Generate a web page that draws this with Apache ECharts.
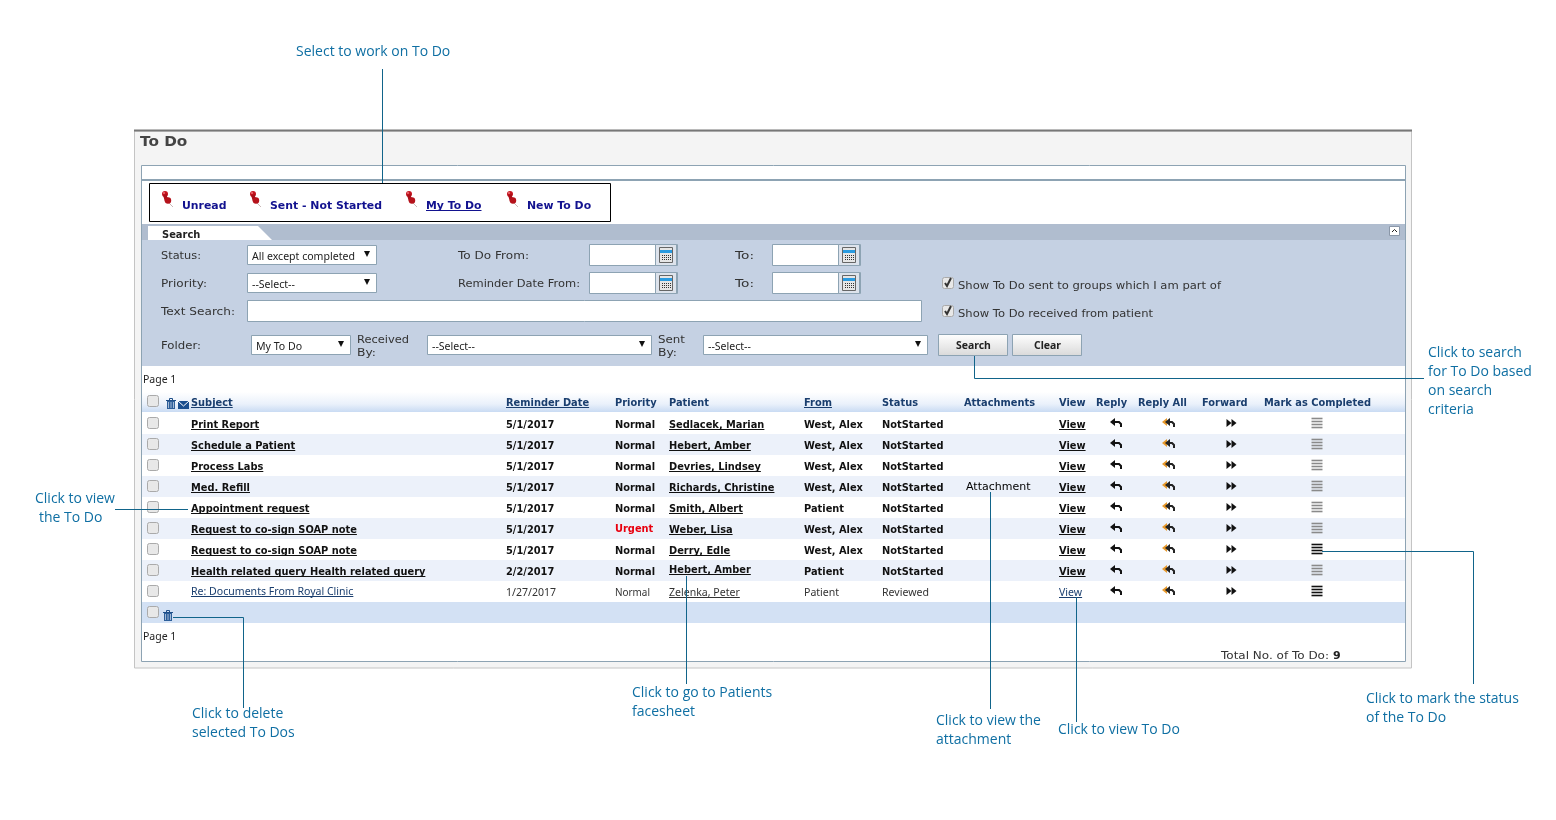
<!DOCTYPE html>
<html><head><meta charset="utf-8">
<style>html,body{margin:0;padding:0;background:#fff}#c{width:1556px;height:820px}</style>
<script src="https://cdn.jsdelivr.net/npm/echarts@6/dist/echarts.min.js"></script>
</head><body><div id="c"></div>
<script>
var tabs = ['Unread','Sent - Not Started','My To Do','New To Do'];
var headers = ['Subject','Reminder Date','Priority','Patient','From','Status','Attachments','View','Reply','Reply All','Forward','Mark as Completed'];
var subjects = ['Print Report','Schedule a Patient','Process Labs','Med. Refill','Appointment request','Request to co-sign SOAP note','Request to co-sign SOAP note','Health related query Health related query','Re: Documents From Royal Clinic'];
var dates = ['5/1/2017','5/1/2017','5/1/2017','5/1/2017','5/1/2017','5/1/2017','5/1/2017','2/2/2017','1/27/2017'];
var priorities = ['Normal','Normal','Normal','Normal','Normal','Urgent','Normal','Normal','Normal'];
var patients = ['Sedlacek, Marian','Hebert, Amber','Devries, Lindsey','Richards, Christine','Smith, Albert','Weber, Lisa','Derry, Edle','Hebert, Amber','Zelenka, Peter'];
var senders = ['West, Alex','West, Alex','West, Alex','West, Alex','Patient','West, Alex','West, Alex','Patient','Patient'];
var statuses = ['NotStarted','NotStarted','NotStarted','NotStarted','NotStarted','NotStarted','NotStarted','NotStarted','Reviewed'];
var attachments = ['','','','Attachment','','','','',''];

(function(){
var G = [];
var VF = '"DejaVu Sans", Verdana, sans-serif', SF = '"Noto Sans", Tahoma, sans-serif', AF = '"Open Sans", sans-serif';
var TEAL = '#0f6fa3', LINE = '#11648a', BORDER = '#8da3b3';
var BOLD = 0.895, TAH = 0.96;
var mc = document.createElement('canvas').getContext('2d');
function rect(x,y,w,h,fill,stroke,lw,r){G.push({type:'rect',silent:true,shape:{x:x,y:y,width:w,height:h,r:r||0},style:{fill:fill||'transparent',stroke:stroke||null,lineWidth:lw||1}});}
function line(x1,y1,x2,y2,c,lw){G.push({type:'line',silent:true,shape:{x1:x1,y1:y1,x2:x2,y2:y2},style:{stroke:c,lineWidth:lw||1}});}
function poly(p,fill){G.push({type:'polygon',silent:true,shape:{points:p},style:{fill:fill}});}
function pl(p,c,lw){G.push({type:'polyline',silent:true,shape:{points:p},style:{stroke:c,lineWidth:lw||1,fill:null}});}
function dot(x,y,r,fill){G.push({type:'circle',silent:true,shape:{cx:x,cy:y,r:r},style:{fill:fill}});}
function measure(s,font){mc.font=font;return mc.measureText(s).width;}
function txt(s,x,y,font,fill,ul,sx){
  sx=sx||1;
  G.push({type:'text',silent:true,originX:x,originY:y+2,scaleX:sx,style:{text:s,x:x,y:y+2,font:font,fill:fill,align:'left',verticalAlign:'middle'}});
  if(ul){line(x,Math.round(y)+6.5,x+measure(s,font)*sx,Math.round(y)+6.5,fill,1);}
}
function fit(s,x,y,font,fill,w){txt(s,x,y,font,fill,false,w/measure(s,font));}
function pin(x,y){
  pl([[x+1,y+4],[x+5,y+8]],'#c9b8b8',1);
  dot(x-3,y-5,3,'#c4141f');
  poly([[x-5,y-4],[x-1,y-5],[x-1,y-2],[x+3,y+1],[x-3,y+3]],'#a90f19');
  dot(x,y+1.5,3.2,'#b5121b');
  dot(x-4,y-6,1,'#f07078');
}
function selectBox(x,y,w,h,s){
  rect(x+.5,y+.5,w-1,h-1,'#fff',BORDER);
  txt(s,x+5,y+h/2,'11px '+SF,'#222',false,TAH);
  var ax=x+w-10,ay=y+h/2-1;poly([[ax-3,ay-3],[ax+3,ay-3],[ax,ay+3]],'#111');
}
function cal(x,y){
  rect(x+.5,y+.5,21,21,'#dde3ec',BORDER);
  rect(x+4.5,y+3.5,13,15,'#e6e6e6','#666');
  rect(x+5,y+6,12,3,'#2a9be0');
  for(var r=0;r<3;r++)for(var c=0;c<5;c++)rect(x+7+c*2,y+11+r*2,1,1,'#333');
}
function dateBox(x,y){
  rect(x+.5,y+.5,88,21,'#fff',BORDER);
  cal(x+66,y);
}
function chk(x,y,on){
  rect(x+.5,y+.5,11,11,'#e8e8e8','#aaaaaa',1,2);
  if(on)pl([[x+3,y+6],[x+5,y+9],[x+9,y+1]],'#333',2);
}
function trash(x,y){
  rect(x,y,8,8,'#2d5f9a');
  line(x-1,y-.5,x+9,y-.5,'#1f4f88',1);
  rect(x+2.5,y-2.5,3,2,null,'#1f4f88');
  for(var i=0;i<3;i++)line(x+1.5+i*2.5,y+1,x+1.5+i*2.5,y+7,'#d8e4f2',.7);
}
function replyIc(x,y,c){
  poly([[x-6,y-1],[x-1,y-5],[x-1,y+3]],c||'#111');
  pl([[x-2,y-1],[x+3,y-1],[x+5,y+1],[x+5,y+4]],c||'#111',2);
}
function replyAllIc(x,y){
  poly([[x-7,y-1],[x-2,y-5],[x-2,y+3]],'#e89a2c');
  poly([[x-4,y-1],[x+1,y-5],[x+1,y+3]],'#222');
  pl([[x,y-1],[x+3,y-1],[x+5,y+1],[x+5,y+4]],'#222',2);
}
function forwardIc(x,y){
  poly([[x-5,y-4],[x,y],[x-5,y+4]],'#111');
  poly([[x,y-4],[x+5,y],[x,y+4]],'#111');
}
function listIc(x,y,c){
  for(var i=0;i<4;i++){line(x-5,y-4+i*3+.5,x+6,y-4+i*3+.5,c,1.6);}
}
function grad(stops){return {type:'linear',x:0,y:0,x2:0,y2:1,colorStops:stops};}

rect(134.5,131,1277,537,'#f4f4f4','#c4c4c4',1);
line(134,130.5,1412,130.5,'#777',2);
txt('To Do',140,140,'bold 14px '+VF,'#444',false,1.09);
rect(141.5,165.5,1264,496,'#fff',BORDER);
line(142,180,1405,180,BORDER,2);

rect(149.5,183.5,461,38,'#fff','#000');
var tabX=[182,270,426,527], pinX=[168,256,412,513];
tabs.forEach(function(t,i){
  pin(pinX[i],199);
  txt(t,tabX[i],204,'bold 11px '+VF,'#12128f',i===2,.99);
});

rect(142,224,1263,16,'#b0bdcf');
rect(142,240,1263,126,'#c5d1e3');
poly([[148,226],[258,226],[272,240],[148,240]],'#fff');
txt('Search',162,233,'bold 11px '+VF,'#222',false,.9);
rect(1389.5,226.5,10,9,'#fff','#8a97a8');
pl([[1392,232],[1394.5,229.5],[1397,232]],'#222',1);

var LAB='11px '+VF, LC='#333';
fit('Status:',161,254,LAB,LC,40);
fit('Priority:',161,282,LAB,LC,46);
fit('Text Search:',161,310,LAB,LC,74);
fit('Folder:',161,344,LAB,LC,40);
fit('To Do From:',458,254,LAB,LC,71);
fit('Reminder Date From:',458,282,LAB,LC,122);
fit('To:',735,254,LAB,LC,19);
fit('To:',735,282,LAB,LC,19);
fit('Received',357,338,LAB,LC,52);
fit('By:',357,351,LAB,LC,19);
fit('Sent',658,338,LAB,LC,27);
fit('By:',658,351,LAB,LC,19);
selectBox(247,245,130,20,'All except completed');
selectBox(247,273,130,20,'--Select--');
rect(247.5,300.5,674,21,'#fff',BORDER);
selectBox(251,335,100,20,'My To Do');
selectBox(427,335,225,20,'--Select--');
selectBox(703,335,225,20,'--Select--');
dateBox(589,244);dateBox(772,244);dateBox(589,272);dateBox(772,272);
chk(942,277,true);chk(942,305,true);
fit('Show To Do sent to groups which I am part of',958,284,LAB,LC,263);
fit('Show To Do received from patient',958,312,LAB,LC,195);
rect(938.5,334.5,69,21,grad([{offset:0,color:'#ffffff'},{offset:1,color:'#d9d9d9'}]),BORDER);
rect(1012.5,334.5,69,21,grad([{offset:0,color:'#ffffff'},{offset:1,color:'#d9d9d9'}]),BORDER);
txt('Search',956,344,'bold 11px '+SF,'#222',false,.95);
txt('Clear',1034,344,'bold 11px '+SF,'#222',false,.95);

var ROW0=424, RH=21, n=subjects.length, i;
txt('Page 1',143,378,'10.5px '+SF,'#222');
rect(142,392,1263,20,grad([{offset:0,color:'#ffffff'},{offset:.6,color:'#eaf1fb'},{offset:1,color:'#c9dbf3'}]));
var colX=[191,506,615,669,804,882,964,1059,1096,1138,1202,1264];
var HF='bold 11px '+VF, HC='#1a3e6e';
headers.forEach(function(h,j){txt(h,colX[j],401,HF,HC,j===0||j===1||j===4,BOLD);});
chk(147,395,false);
trash(167,401);
rect(178,401,11,8,'#1b4f8f');pl([[178,401],[183.5,406],[189,401]],'#fff',1);

for(i=0;i<n;i++){
  if(i%2===1)rect(142,413+i*RH,1263,RH,'#ecf1fa');
}
for(i=0;i<n;i++){
  var y=ROW0+i*RH, last=i===8, ty=y-1;
  var F=(last?'':'bold ')+'11px '+(last?SF:VF), C=last?'#333':'#111', SX=last?TAH:BOLD;
  chk(147,y-7,false);
  txt(subjects[i],colX[0],ty+(last?-1:0),F,last?'#1a3e6e':C,true,SX);
  txt(dates[i],colX[1],ty,F,C,false,SX);
  txt(priorities[i],colX[2],ty+(priorities[i]==='Urgent'?-1:0),F,priorities[i]==='Urgent'?'#e8000e':C,false,last?.9:SX);
  txt(patients[i],colX[3],ty+(i===7?-2:0),F,C,true,SX);
  txt(senders[i],colX[4],ty,F,C,false,SX);
  txt(statuses[i],colX[5],ty,F,C,false,SX);
  if(attachments[i])txt(attachments[i],966,ty-1,'11px '+VF,'#000');
  txt('View',colX[7],ty,F,last?'#1a3e6e':C,true,SX);
  replyIc(1116,y-1,'#111');
  replyAllIc(1169,y-1);
  forwardIc(1231.5,y-1);
  listIc(1316.5,y-2,(i===6||i===8)?'#111':'#8a8a8a');
}
rect(142,602,1263,21,'#d3e1f4');
chk(147,606,false);
trash(164,613);
txt('Page 1',143,635,'10.5px '+SF,'#222');
fit('Total No. of To Do:',1221,654,'11px '+VF,'#333',108);
txt('9',1333,654,'bold 11px '+VF,'#222');

function note(lines,x,y0,xs){
  lines.forEach(function(s,k){
    G.push({type:'text',silent:true,style:{text:s,x:xs?xs[k]:x,y:y0+k*19+1,font:'14px '+AF,fill:TEAL,align:'left',verticalAlign:'middle'}});
  });
}
note(['Select to work on To Do'],296,51);
note(['Click to search','for To Do based','on search','criteria'],1428,352);
note(['Click to view','the To Do'],35,498,[35,39]);
note(['Click to delete','selected To Dos'],192,713);
note(['Click to go to Patients','facesheet'],632,692);
note(['Click to view the','attachment'],936,720);
note(['Click to view To Do'],1058,729);
note(['Click to mark the status','of the To Do'],1366,698);
line(382.5,69,382.5,183,LINE);
pl([[974.5,356],[974.5,378.5],[1424,378.5]],LINE);
line(115,509.5,188,509.5,LINE);
pl([[173,617.5],[243.5,617.5],[243.5,708]],LINE);
line(686.5,576,686.5,684,LINE);
line(990.5,492,990.5,709,LINE);
line(1076.5,597,1076.5,722,LINE);
pl([[1322,551.5],[1473.5,551.5],[1473.5,684]],LINE);

var chart = echarts.init(document.getElementById('c'),null,{renderer:'canvas',width:1556,height:820});
chart.setOption({animation:false,backgroundColor:'#fff',graphic:{elements:G}});
})();
</script></body></html>
